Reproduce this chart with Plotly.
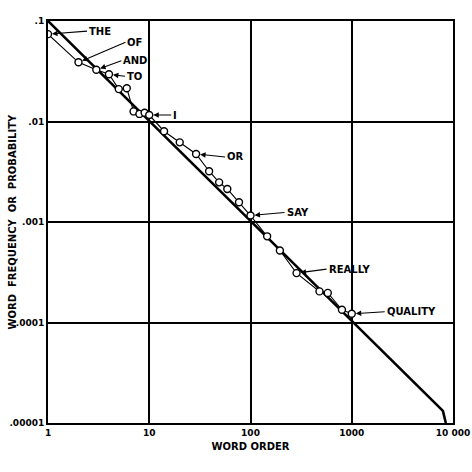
import numpy as np
import plotly.graph_objects as go

# observed word ranks and frequencies
rank = [1, 2, 3, 4, 5, 6, 7, 8, 9, 10, 14, 20, 29, 39, 49, 59, 77, 100, 146, 195, 285, 480, 580, 800, 1000]
freq = [0.074, 0.0388, 0.0327, 0.0295, 0.021, 0.0214, 0.0126, 0.0119, 0.0122, 0.0116,
        0.0080, 0.0062, 0.00475, 0.0032, 0.00248, 0.00213, 0.00157, 0.00116, 0.00072,
        0.00052, 0.00031, 0.000204, 0.000197, 0.000134, 0.000122]

# ideal Zipf line
zipf_x = [1, 7950, 8500]
zipf_y = [0.1, 1.32e-5, 1e-5]

# labelled words: (word, rank, freq, dx px, dy px)
label_words = ["THE", "OF", "AND", "TO", "I", "OR", "SAY", "REALLY", "QUALITY"]
label_rank = [1, 2, 3, 4, 10, 29, 100, 285, 1000]
label_freq = [0.074, 0.0388, 0.0327, 0.0295, 0.0116, 0.00475, 0.00116, 0.00031, 0.000122]
label_dx = [39, 47, 25, 16, 22, 29, 34, 30, 33]
label_dy = [-3, -20, -9, 2, 0, 3, -3, -4, -2]

x_ticks = [1, 10, 100, 1000, 10000]
x_ticktext = ["1", "10", "100", "1000", "10 000"]
y_ticks = [0.1, 0.01, 0.001, 0.0001, 0.00001]
y_ticktext = [".1", ".01", ".001", ".0001", ".00001"]

FONT = "DejaVu Sans"

fig = go.Figure()
fig.add_trace(go.Scatter(x=zipf_x, y=zipf_y, mode="lines",
                         line=dict(color="black", width=2.6), hoverinfo="skip"))
fig.add_trace(go.Scatter(x=rank, y=freq, mode="lines+markers",
                         line=dict(color="black", width=1.1),
                         marker=dict(symbol="circle", size=7, color="white",
                                     line=dict(color="black", width=1.4))))

for w, r, f, dx, dy in zip(label_words, label_rank, label_freq, label_dx, label_dy):
    fig.add_annotation(x=np.log10(r), y=np.log10(f), xref="x", yref="y",
                       text=w, showarrow=True, arrowhead=2, arrowsize=1,
                       arrowwidth=1.1, arrowcolor="black", standoff=4,
                       ax=dx, ay=dy, xanchor="left", yanchor="middle",
                       font=dict(family=FONT, size=10, color="black", weight="bold"))

fig.add_annotation(x=-0.09, y=0.5, xref="paper", yref="paper",
                   text="WORD  FREQUENCY  OR  PROBABILITY", textangle=-90,
                   showarrow=False, xanchor="center", yanchor="middle",
                   font=dict(family=FONT, size=10, color="black", weight="bold"))

axis_common = dict(type="log", showgrid=True, gridcolor="black", gridwidth=1.8,
                   showline=True, linecolor="black", linewidth=2, mirror=True,
                   ticks="", zeroline=False, automargin=False,
                   tickfont=dict(family=FONT, size=9, color="black", weight="bold"))

fig.update_xaxes(range=[0, 4], tickvals=x_ticks, ticktext=x_ticktext,
                 title=dict(text="WORD ORDER", standoff=6,
                            font=dict(family=FONT, size=10, color="black", weight="bold")),
                 **axis_common)
fig.update_yaxes(range=[-5, -1], tickvals=y_ticks, ticktext=y_ticktext, **axis_common)

fig.update_layout(width=472, height=472, showlegend=False,
                  margin=dict(l=48, r=19, t=21, b=49, autoexpand=False),
                  paper_bgcolor="white", plot_bgcolor="white")

fig.write_html("out.html")
